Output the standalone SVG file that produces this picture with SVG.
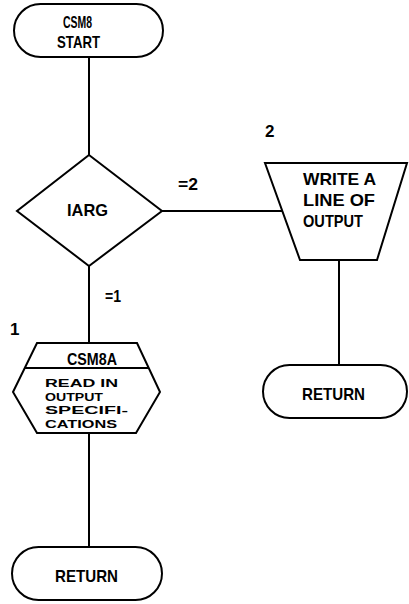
<svg xmlns="http://www.w3.org/2000/svg" width="409" height="604" viewBox="0 0 409 604">
<style>
.s{fill:#fff;stroke:#000;stroke-width:2}
.c{fill:none;stroke:#000;stroke-width:2}
text{font-family:"Liberation Sans",Arial,sans-serif;font-weight:bold;font-size:17px;fill:#000}
.h{font-size:11.5px}
</style>
<rect width="409" height="604" fill="#fff"/>
<g id="connectors">
<line class="c" x1="89" y1="57" x2="89" y2="155"/>
<line class="c" x1="162" y1="211" x2="283" y2="211"/>
<line class="c" x1="89" y1="266" x2="89" y2="343"/>
<line class="c" x1="89" y1="433" x2="89" y2="547"/>
<line class="c" x1="339" y1="260" x2="339" y2="365"/>
<text x="178" y="190" textLength="20" lengthAdjust="spacingAndGlyphs">=2</text>
<text x="105" y="302" textLength="16" lengthAdjust="spacingAndGlyphs">=1</text>
</g>
<g id="start">
<rect class="s" x="14" y="4" width="149" height="53" rx="26.5"/>
<text x="63" y="28" textLength="29" lengthAdjust="spacingAndGlyphs">CSM8</text>
<text x="57" y="48" textLength="43" lengthAdjust="spacingAndGlyphs">START</text>
</g>
<g id="iarg">
<polygon class="s" points="89,155 162,211 89,266 17,211"/>
<text x="67" y="216" textLength="41" lengthAdjust="spacingAndGlyphs">IARG</text>
</g>
<g id="write">
<text x="265" y="137">2</text>
<polygon class="s" points="265,163 407,163 377,260 300,260"/>
<text x="303" y="185" textLength="73" lengthAdjust="spacingAndGlyphs">WRITE A</text>
<text x="303" y="206" textLength="72" lengthAdjust="spacingAndGlyphs">LINE OF</text>
<text x="303" y="227" textLength="60" lengthAdjust="spacingAndGlyphs">OUTPUT</text>
</g>
<g id="return2">
<rect class="s" x="263" y="365" width="144" height="53" rx="26.5"/>
<text x="302" y="400" textLength="63" lengthAdjust="spacingAndGlyphs">RETURN</text>
</g>
<g id="csm8a">
<text x="10" y="335">1</text>
<polygon class="s" points="37,343 137,343 160,392 136,433 37,433 13,392"/>
<line class="c" x1="25" y1="368" x2="149" y2="368"/>
<text x="67" y="365" textLength="50" lengthAdjust="spacingAndGlyphs">CSM8A</text>
<text class="h" x="45" y="387" textLength="73" lengthAdjust="spacingAndGlyphs">READ IN</text>
<text class="h" x="45" y="400.5" textLength="58" lengthAdjust="spacingAndGlyphs">OUTPUT</text>
<text class="h" x="45" y="414" textLength="83" lengthAdjust="spacingAndGlyphs">SPECIFI-</text>
<text class="h" x="45" y="427.5" textLength="72" lengthAdjust="spacingAndGlyphs">CATIONS</text>
</g>
<g id="return1">
<rect class="s" x="12" y="547" width="150" height="53" rx="26.5"/>
<text x="55" y="582" textLength="63" lengthAdjust="spacingAndGlyphs">RETURN</text>
</g>
</svg>
